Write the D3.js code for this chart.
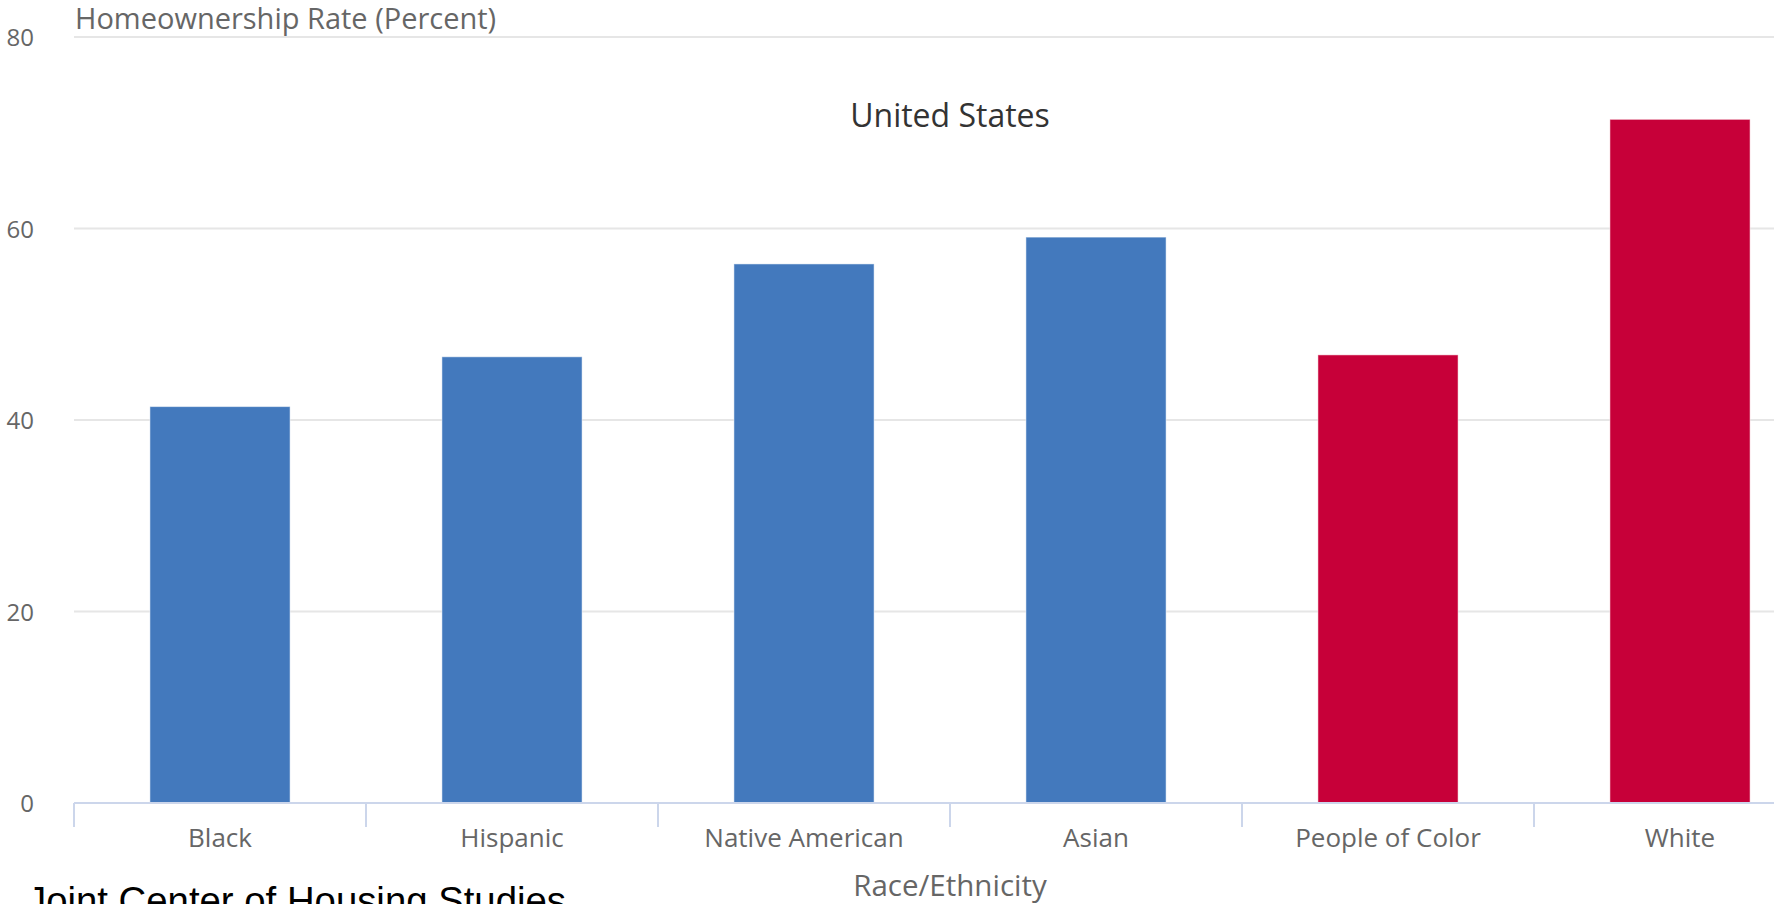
<!DOCTYPE html>
<html>
<head>
<meta charset="utf-8">
<script src="https://cdn.jsdelivr.net/npm/d3@7"></script>
<style>
  html, body { margin: 0; padding: 0; background: #ffffff; overflow: hidden; }
  svg { display: block; }
</style>
</head>
<body>
<svg id="chart" width="1774" height="904"></svg>
<script>
// ---- data ----
const categories = ["Black", "Hispanic", "Native American", "Asian", "People of Color", "White"];
const values = [41.4, 46.6, 56.3, 59.1, 46.8, 71.4];
const groups = ["group", "group", "group", "group", "total", "total"];
const yTicks = [0, 20, 40, 60, 80];
const chartTitle = "United States";
const yTitle = "Homeownership Rate (Percent)";
const xTitle = "Race/Ethnicity";
const sourceNote = "Joint Center of Housing Studies";

// ---- layout ----
const W = 1774, H = 904;
const plotLeft = 74, plotRight = 1826, plotTop = 37, plotBottom = 803;
const svg = d3.select("#chart");

const x = d3.scaleBand()
  .domain(categories)
  .range([plotLeft, plotRight])
  .paddingInner(0.52)
  .paddingOuter(0.26);

const y = d3.scaleLinear().domain([0, 80]).range([plotBottom, plotTop]);

const color = d3.scaleOrdinal().domain(["group", "total"]).range(["#4379bd", "#c70039"]);

// gridlines
svg.append("g")
  .selectAll("line")
  .data(yTicks.filter(d => d > 0))
  .join("line")
  .attr("x1", plotLeft)
  .attr("x2", W)
  .attr("y1", d => y(d))
  .attr("y2", d => y(d))
  .attr("stroke", "#e6e6e6")
  .attr("stroke-width", 2);

// y axis labels
const yAxis = d3.axisLeft(y).tickValues(yTicks).tickSize(0).tickPadding(0);
const yg = svg.append("g").attr("transform", `translate(34,1)`).call(yAxis);
yg.select(".domain").remove();
yg.selectAll("text")
  .attr("fill", "#666666")
  .style("font-family", "'Open Sans', sans-serif")
  .style("font-size", "24px");

// bars
svg.append("g")
  .selectAll("rect")
  .data(categories)
  .join("rect")
  .attr("x", d => x(d))
  .attr("width", x.bandwidth())
  .attr("y", (d, i) => y(values[i]))
  .attr("height", (d, i) => y(0) - y(values[i]))
  .attr("fill", (d, i) => color(groups[i]))
  .attr("stroke", "#ffffff")
  .attr("stroke-opacity", 0.5)
  .attr("stroke-width", 1);

// x axis
const xAxis = d3.axisBottom(x).tickSize(0).tickPadding(0);
const xg = svg.append("g").attr("transform", `translate(0,${plotBottom})`).call(xAxis);
xg.select(".domain").remove();
xg.selectAll(".tick line").remove();
xg.selectAll("text")
  .attr("y", 44)
  .attr("dy", 0)
  .attr("fill", "#666666")
  .style("font-family", "'Open Sans', sans-serif")
  .style("font-size", "26px");

// axis line
svg.append("line")
  .attr("x1", plotLeft).attr("x2", W)
  .attr("y1", plotBottom).attr("y2", plotBottom)
  .attr("stroke", "#ccd6eb").attr("stroke-width", 2);

// category boundary ticks
const step = x.step();
const boundaries = d3.range(categories.length + 1).map(i => plotLeft + i * step);
svg.append("g")
  .selectAll("line")
  .data(boundaries)
  .join("line")
  .attr("x1", d => d).attr("x2", d => d)
  .attr("y1", plotBottom).attr("y2", plotBottom + 24)
  .attr("stroke", "#ccd6eb").attr("stroke-width", 2);

// titles
svg.append("text")
  .attr("x", (plotLeft + plotRight) / 2)
  .attr("y", 127)
  .attr("text-anchor", "middle")
  .attr("fill", "#333333")
  .style("font-family", "'Open Sans', sans-serif")
  .style("font-size", "32px")
  .text(chartTitle);

svg.append("text")
  .attr("x", 75)
  .attr("y", 29)
  .attr("fill", "#666666")
  .style("font-family", "'Open Sans', sans-serif")
  .style("font-size", "29px")
  .text(yTitle);

svg.append("text")
  .attr("x", (plotLeft + plotRight) / 2)
  .attr("y", 896)
  .attr("text-anchor", "middle")
  .attr("fill", "#666666")
  .style("font-family", "'Open Sans', sans-serif")
  .style("font-size", "29.5px")
  .text(xTitle);

svg.append("text")
  .attr("x", 27)
  .attr("y", 914)
  .attr("fill", "#000000")
  .attr("textLength", 539)
  .attr("lengthAdjust", "spacingAndGlyphs")
  .style("font-family", "'Liberation Sans', Arial, sans-serif")
  .style("font-size", "38px")
  .text(sourceNote);
</script>
</body>
</html>
